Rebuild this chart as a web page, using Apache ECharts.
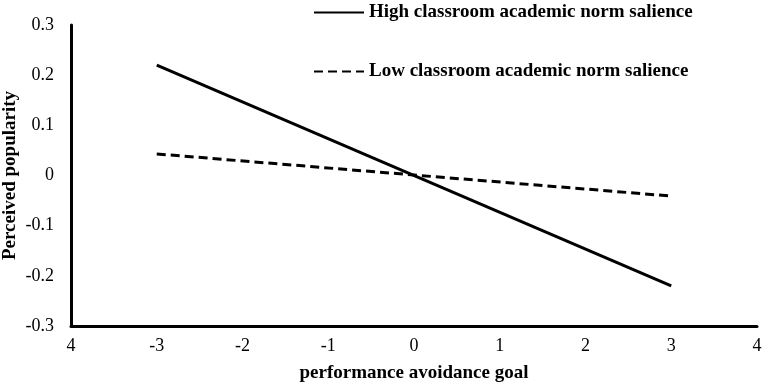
<!DOCTYPE html>
<html>
<head>
<meta charset="utf-8">
<script src="https://cdn.jsdelivr.net/npm/echarts@6/dist/echarts.min.js"></script>
<style>
  html, body { margin: 0; padding: 0; background: #fff; }
  #chart { width: 765px; height: 383px; }
</style>
</head>
<body>
<div id="chart"></div>
<script>
// x positions of the two plotted ends
const goalX = [-3, 3];
const highNorm = [0.22, -0.22];
const lowNorm = [0.043, -0.041];
// tick labels as printed on the figure
const xTickLabels = { "-4": "4", "-3": "-3", "-2": "-2", "-1": "-1", "0": "0", "1": "1", "2": "2", "3": "3", "4": "4" };
const seriesNames = ["High classroom academic norm salience", "Low classroom academic norm salience"];

const font = "'Liberation Serif', 'Times New Roman', serif";
const myChart = echarts.init(document.getElementById("chart"));

const options = {
  animation: false,
  textStyle: { fontFamily: font },
  legend: {
    orient: "vertical",
    left: 313,
    top: 3,
    padding: 0,
    itemWidth: 50,
    itemHeight: 16,
    itemGap: 40,
    itemStyle: { opacity: 0 },
    textStyle: {
      fontFamily: font,
      fontSize: 19,
      fontWeight: "bold",
      color: "#000",
    },
    data: seriesNames,
  },
  grid: {
    left: 71,
    right: 8,
    top: 25,
    bottom: 57,
    outerBoundsMode: "none",
    containLabel: false,
  },
  xAxis: {
    type: "value",
    min: -4,
    max: 4,
    interval: 1,
    name: "performance avoidance goal",
    nameLocation: "middle",
    nameGap: 38,
    nameMoveOverlap: false,
    nameTextStyle: { fontFamily: font, fontSize: 19, fontWeight: "bold", color: "#000" },
    axisLine: { onZero: false, lineStyle: { color: "#000", width: 3 } },
    axisTick: { show: false },
    splitLine: { show: false },
    axisLabel: {
      color: "#000",
      fontSize: 18,
      margin: 11,
      formatter: (v) => xTickLabels[String(v)],
    },
  },
  yAxis: {
    type: "value",
    min: -0.3,
    max: 0.3,
    interval: 0.1,
    name: "Perceived popularity",
    nameLocation: "middle",
    nameGap: 51,
    nameMoveOverlap: false,
    nameTextStyle: { fontFamily: font, fontSize: 19, fontWeight: "bold", color: "#000" },
    axisLine: { show: true, onZero: false, lineStyle: { color: "#000", width: 3 } },
    axisTick: { show: false },
    splitLine: { show: false },
    axisLabel: {
      color: "#000",
      fontSize: 18,
      margin: 17,
      formatter: (v) => String(Math.round(v * 10) / 10),
    },
  },
  series: [
    {
      name: seriesNames[0],
      type: "line",
      symbol: "none",
      data: goalX.map((x, i) => [x, highNorm[i]]),
      lineStyle: { color: "#000", width: 3, type: "solid" },
      itemStyle: { color: "#000" },
    },
    {
      name: seriesNames[1],
      type: "line",
      symbol: "none",
      data: goalX.map((x, i) => [x, lowNorm[i]]),
      lineStyle: { color: "#000", width: 3, type: [9, 5] },
      itemStyle: { color: "#000" },
    },
  ],
};

myChart.setOption(options);
</script>
</body>
</html>
